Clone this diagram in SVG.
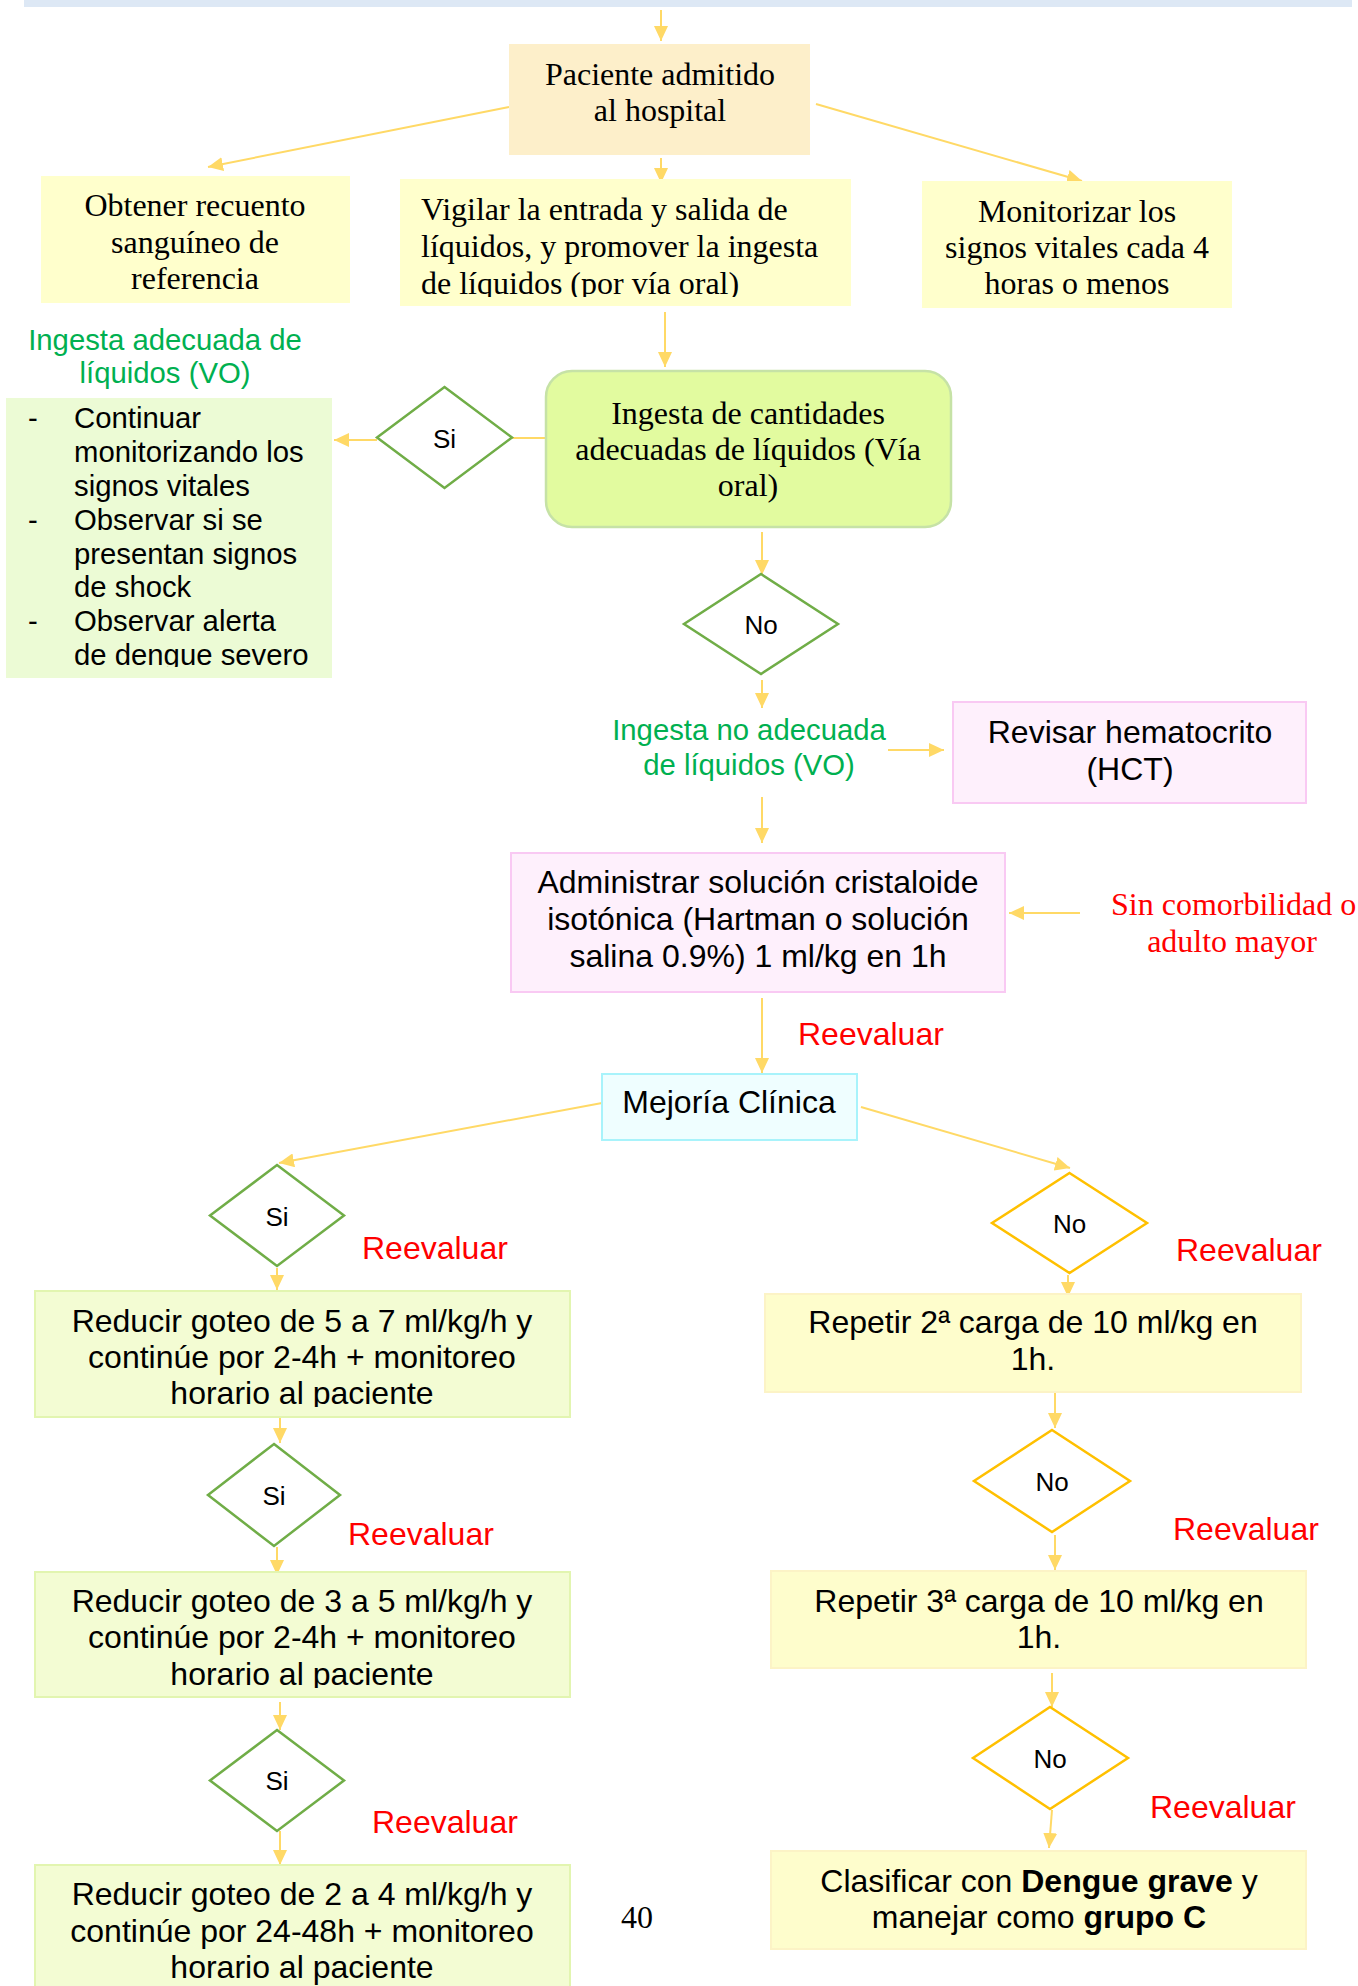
<svg xmlns="http://www.w3.org/2000/svg" width="1358" height="1986" viewBox="0 0 1358 1986">
<defs>
<style>
.serif{font-family:"Liberation Serif","Times New Roman",serif;font-size:32px;fill:#000}
.sans{font-family:"Liberation Sans",Arial,sans-serif;font-size:32px;fill:#000}
.mid{text-anchor:middle}
.green{font-family:"Liberation Sans",Arial,sans-serif;font-size:29.3px;fill:#00b050;text-anchor:middle}
.small{font-family:"Liberation Sans",Arial,sans-serif;font-size:29.3px;fill:#000}
.dtxt{font-family:"Liberation Sans",Arial,sans-serif;font-size:26px;fill:#000;text-anchor:middle}
.red{font-family:"Liberation Sans",Arial,sans-serif;font-size:32px;fill:#ff0000}
.redserif{font-family:"Liberation Serif","Times New Roman",serif;font-size:32px;fill:#ff0000}
.conn{stroke:#ffd966;stroke-width:2;fill:none}
.arr{marker-end:url(#ah)}
.yellow{fill:#ffffcc}
.peach{fill:#fdefca}
.pink{fill:#fef0fc;stroke:#f9c9f3;stroke-width:2}
.lgreen{fill:#f3fcd3;stroke:#e2f5b0;stroke-width:2}
.lyellow{fill:#fefdcc;stroke:#fcf3c6;stroke-width:2}
.dg{fill:#fff;stroke:#70ad47;stroke-width:2.5}
.dy{fill:#fff;stroke:#ffc000;stroke-width:2.5}
</style>
<marker id="ah" viewBox="0 0 15 14" refX="15" refY="7" markerWidth="15" markerHeight="14" markerUnits="userSpaceOnUse" orient="auto">
<path d="M0,0 L15,7 L0,14 z" fill="#ffd966"/>
</marker>
<clipPath id="cVig"><rect x="400" y="179" width="451" height="118"/></clipPath>
<clipPath id="cLeft"><rect x="6" y="398" width="326" height="269"/></clipPath>
<clipPath id="cR1"><rect x="35" y="1291" width="535" height="116"/></clipPath>
<clipPath id="cR2"><rect x="35" y="1572" width="535" height="116"/></clipPath>
</defs>

<rect x="24" y="0" width="1328" height="7" fill="#dde8f5"/>

<g id="connectors">
<line class="conn arr" x1="661" y1="10" x2="661" y2="41"/>
<line class="conn arr" x1="509" y1="107" x2="208" y2="167"/>
<line class="conn arr" x1="661" y1="158" x2="661" y2="183"/>
<line class="conn arr" x1="816" y1="104" x2="1082" y2="181"/>
<line class="conn arr" x1="665" y1="312" x2="665" y2="367"/>
<line class="conn" x1="546" y1="438" x2="512" y2="438"/>
<line class="conn arr" x1="377" y1="440" x2="334" y2="440"/>
<line class="conn arr" x1="762" y1="532" x2="762" y2="575"/>
<line class="conn arr" x1="762" y1="680" x2="762" y2="708"/>
<line class="conn arr" x1="888" y1="750" x2="944" y2="750"/>
<line class="conn arr" x1="762" y1="797" x2="762" y2="843"/>
<line class="conn arr" x1="1080" y1="913" x2="1009" y2="913"/>
<line class="conn arr" x1="762" y1="998" x2="762" y2="1073"/>
<line class="conn arr" x1="602" y1="1103" x2="279" y2="1163"/>
<line class="conn arr" x1="861" y1="1107" x2="1070" y2="1168"/>
<line class="conn arr" x1="277" y1="1268" x2="277" y2="1290"/>
<line class="conn arr" x1="280" y1="1418" x2="280" y2="1443"/>
<line class="conn arr" x1="277" y1="1547" x2="277" y2="1575"/>
<line class="conn arr" x1="280" y1="1702" x2="280" y2="1730"/>
<line class="conn arr" x1="280" y1="1831" x2="280" y2="1865"/>
<line class="conn arr" x1="1068" y1="1275" x2="1068" y2="1297"/>
<line class="conn arr" x1="1055" y1="1393" x2="1055" y2="1428"/>
<line class="conn arr" x1="1055" y1="1535" x2="1055" y2="1570"/>
<line class="conn arr" x1="1052" y1="1673" x2="1052" y2="1707"/>
<line class="conn arr" x1="1052" y1="1810" x2="1049" y2="1848"/>
</g>

<g id="paciente">
<rect class="peach" x="509" y="44" width="301" height="111"/>
<text class="serif mid" x="660" y="85">Paciente admitido</text>
<text class="serif mid" x="660" y="121">al hospital</text>
</g>

<g id="obtener">
<rect class="yellow" x="41" y="176" width="309" height="127"/>
<text class="serif mid" x="195" y="216">Obtener recuento</text>
<text class="serif mid" x="195" y="253">sanguíneo de</text>
<text class="serif mid" x="195" y="289">referencia</text>
</g>

<g id="vigilar">
<rect class="yellow" x="400" y="179" width="451" height="127"/>
<g clip-path="url(#cVig)">
<text class="serif" x="421" y="220">Vigilar la entrada y salida de</text>
<text class="serif" x="421" y="257">líquidos, y promover la ingesta</text>
<text class="serif" x="421" y="294">de líquidos (por vía oral)</text>
</g>
</g>

<g id="monitorizar">
<rect class="yellow" x="922" y="181" width="310" height="127"/>
<text class="serif mid" x="1077" y="222">Monitorizar los</text>
<text class="serif mid" x="1077" y="258">signos vitales cada 4</text>
<text class="serif mid" x="1077" y="294">horas o menos</text>
</g>

<g id="label-adecuada">
<text class="green" x="165" y="350">Ingesta adecuada de</text>
<text class="green" x="165" y="383">líquidos (VO)</text>
</g>

<g id="continuar">
<rect x="6" y="398" width="326" height="280" fill="#ecfbd5"/>
<g clip-path="url(#cLeft)">
<text class="small" x="28" y="428">-</text>
<text class="small" x="74" y="428">Continuar</text>
<text class="small" x="74" y="462">monitorizando los</text>
<text class="small" x="74" y="496">signos vitales</text>
<text class="small" x="28" y="530">-</text>
<text class="small" x="74" y="530">Observar si se</text>
<text class="small" x="74" y="564">presentan signos</text>
<text class="small" x="74" y="597">de shock</text>
<text class="small" x="28" y="631">-</text>
<text class="small" x="74" y="631">Observar alerta</text>
<text class="small" x="74" y="665">de dengue severo</text>
</g>
</g>

<g id="si-1">
<polygon class="dg" points="444.5,387 512,437.5 444.5,488 377,437.5"/>
<text class="dtxt" x="444.5" y="448">Si</text>
</g>

<g id="ingesta">
<rect x="546" y="371" width="405" height="156" rx="26" ry="26" fill="#e2fb9f" stroke="#c6e2a6" stroke-width="2.5"/>
<text class="serif mid" x="748" y="424">Ingesta de cantidades</text>
<text class="serif mid" x="748" y="460">adecuadas de líquidos (Vía</text>
<text class="serif mid" x="748" y="496">oral)</text>
</g>

<g id="no-1">
<polygon class="dg" points="761,574 838,624 761,674 684,624"/>
<text class="dtxt" x="761" y="634">No</text>
</g>

<g id="label-no-adecuada">
<text class="green" x="749" y="740">Ingesta no adecuada</text>
<text class="green" x="749" y="775">de líquidos (VO)</text>
</g>

<g id="revisar">
<rect class="pink" x="953" y="702" width="353" height="101"/>
<text class="sans mid" x="1130" y="743">Revisar hematocrito</text>
<text class="sans mid" x="1130" y="780">(HCT)</text>
</g>

<g id="administrar">
<rect class="pink" x="511" y="853" width="494" height="139"/>
<text class="sans mid" x="758" y="893">Administrar solución cristaloide</text>
<text class="sans mid" x="758" y="930">isotónica (Hartman o solución</text>
<text class="sans mid" x="758" y="967">salina 0.9%) 1 ml/kg en 1h</text>
</g>

<g id="label-sin">
<text class="redserif" x="1111" y="915">Sin comorbilidad o</text>
<text class="redserif mid" x="1232" y="952">adulto mayor</text>
</g>

<text class="red" x="798" y="1045">Reevaluar</text>

<g id="mejoria">
<rect x="602" y="1074" width="255" height="66" fill="#effeff" stroke="#a8f3fb" stroke-width="2"/>
<text class="sans mid" x="729" y="1113">Mejoría Clínica</text>
</g>

<g id="si-2">
<polygon class="dg" points="277,1165 344,1215.5 277,1266 210,1215.5"/>
<text class="dtxt" x="277" y="1226">Si</text>
</g>
<text class="red" x="362" y="1259">Reevaluar</text>

<g id="reducir-1">
<rect class="lgreen" x="35" y="1291" width="535" height="126"/>
<g clip-path="url(#cR1)">
<text class="sans mid" x="302" y="1332">Reducir goteo de 5 a 7 ml/kg/h y</text>
<text class="sans mid" x="302" y="1368">continúe por 2-4h + monitoreo</text>
<text class="sans mid" x="302" y="1404">horario al paciente</text>
</g>
</g>

<g id="si-3">
<polygon class="dg" points="274,1444 340,1495 274,1546 208,1495"/>
<text class="dtxt" x="274" y="1505">Si</text>
</g>
<text class="red" x="348" y="1545">Reevaluar</text>

<g id="reducir-2">
<rect class="lgreen" x="35" y="1572" width="535" height="125"/>
<g clip-path="url(#cR2)">
<text class="sans mid" x="302" y="1612">Reducir goteo de 3 a 5 ml/kg/h y</text>
<text class="sans mid" x="302" y="1648">continúe por 2-4h + monitoreo</text>
<text class="sans mid" x="302" y="1685">horario al paciente</text>
</g>
</g>

<g id="si-4">
<polygon class="dg" points="277,1730 344,1780.5 277,1831 210,1780.5"/>
<text class="dtxt" x="277" y="1790">Si</text>
</g>
<text class="red" x="372" y="1833">Reevaluar</text>

<g id="reducir-3">
<rect class="lgreen" x="35" y="1865" width="535" height="130"/>
<text class="sans mid" x="302" y="1905">Reducir goteo de 2 a 4 ml/kg/h y</text>
<text class="sans mid" x="302" y="1942">continúe por 24-48h + monitoreo</text>
<text class="sans mid" x="302" y="1978">horario al paciente</text>
</g>

<text class="serif mid" x="637" y="1928">40</text>

<g id="no-r1">
<polygon class="dy" points="1069.5,1173 1147,1223 1069.5,1273 992,1223"/>
<text class="dtxt" x="1069.5" y="1233">No</text>
</g>
<text class="red" x="1176" y="1261">Reevaluar</text>

<g id="repetir-2">
<rect class="lyellow" x="765" y="1294" width="536" height="98"/>
<text class="sans mid" x="1033" y="1333">Repetir 2ª carga de 10 ml/kg en</text>
<text class="sans mid" x="1033" y="1370">1h.</text>
</g>

<g id="no-r2">
<polygon class="dy" points="1052,1430 1130,1481 1052,1532 974,1481"/>
<text class="dtxt" x="1052" y="1491">No</text>
</g>
<text class="red" x="1173" y="1540">Reevaluar</text>

<g id="repetir-3">
<rect class="lyellow" x="771" y="1571" width="535" height="97"/>
<text class="sans mid" x="1039" y="1612">Repetir 3ª carga de 10 ml/kg en</text>
<text class="sans mid" x="1039" y="1648">1h.</text>
</g>

<g id="no-r3">
<polygon class="dy" points="1050,1707 1128,1758 1050,1809 973,1758"/>
<text class="dtxt" x="1050" y="1768">No</text>
</g>
<text class="red" x="1150" y="1818">Reevaluar</text>

<g id="clasificar">
<rect class="lyellow" x="771" y="1851" width="535" height="98"/>
<text class="sans mid" x="1039" y="1892">Clasificar con <tspan font-weight="bold">Dengue grave</tspan> y</text>
<text class="sans mid" x="1039" y="1928">manejar como <tspan font-weight="bold">grupo C</tspan></text>
</g>
</svg>
